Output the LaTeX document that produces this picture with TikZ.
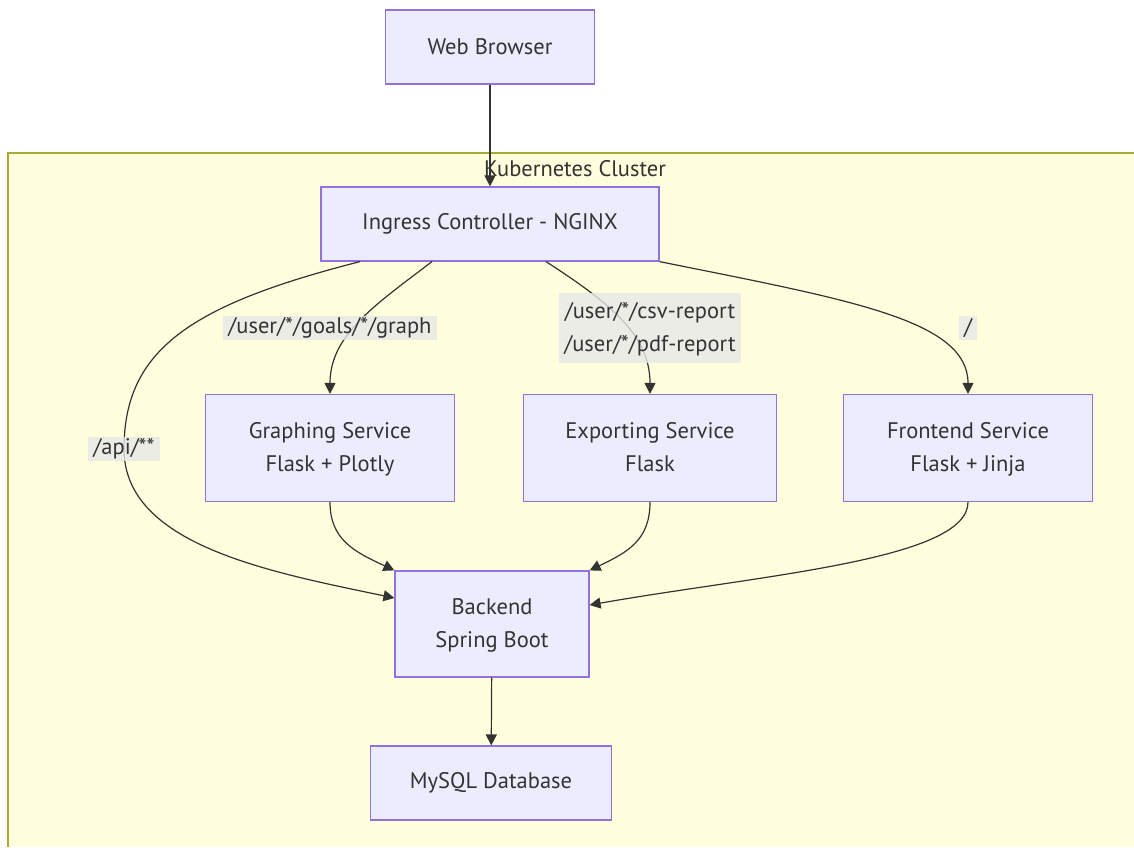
\documentclass[tikz,border=0pt]{standalone}
\usepackage{fontspec}
\setmainfont{PT Sans}
\usepackage{tikz}
\usetikzlibrary{arrows.meta}

\definecolor{boxfill}{HTML}{ECECFF}
\definecolor{boxline}{HTML}{9370DB}
\definecolor{clusterfill}{HTML}{FFFFDE}
\definecolor{clusterline}{HTML}{AAAA33}
\definecolor{ink}{HTML}{333333}
\definecolor{lblfill}{HTML}{E8E8E8}

\begin{document}
\begin{tikzpicture}[x=1pt, y=-1pt,
    box/.style={draw=boxline, fill=boxfill, line width=1.2pt, align=center,
      text=ink, inner sep=0pt, font=\fontsize{22.5}{33}\selectfont},
    flow/.style={draw=ink, line width=1.2pt, -{Triangle[length=11pt,width=11pt]}},
    route/.style={fill=lblfill, fill opacity=0.8, text opacity=1, text=ink,
      align=center, inner xsep=5pt, inner ysep=2pt, font=\fontsize{22.5}{33}\selectfont}]
      \useasboundingbox (0,0) rectangle (1134,847);
      % cluster
      \fill[clusterfill] (8,153) rectangle (1134,847);
      \draw[clusterline, line width=1.2pt] (8,847) -- (8,153) -- (1134,153);
      \node[text=ink, font=\fontsize{22.5}{27}\selectfont] (cluster) at (575,169) {Kubernetes Cluster};

      \node[box, minimum width=209pt, minimum height=74pt] (browser) at (490,47) {Web Browser};
      \node[box, minimum width=338pt, minimum height=74pt] (ingress) at (490,224) {Ingress Controller - NGINX};
      \node[box, minimum width=249pt, minimum height=107pt] (graphing) at (330,448) {\strut Graphing Service\\Flask + Plotly\strut};
      \node[box, minimum width=253pt, minimum height=107pt] (exporting) at (650,448) {\strut Exporting Service\\Flask\strut};
      \node[box, minimum width=249pt, minimum height=107pt] (frontend) at (968,448) {\strut Frontend Service\\Flask + Jinja\strut};
      \node[box, minimum width=194pt, minimum height=106pt] (backend) at (492,624) {\strut Backend\\Spring Boot\strut};
      \node[box, minimum width=241pt, minimum height=74pt] (mysql) at (491,783) {MySQL Database};

      \draw[flow] (browser) -- (ingress);
      \draw[flow] ([xshift=-130pt]ingress.south) .. controls (190,305) and (124,350) .. (124,449)
        .. controls (124,545) and (270,572) .. ([yshift=26pt]backend.west);
      \draw[flow] ([xshift=-58pt]ingress.south) .. controls (375,305) and (330,335) .. (graphing.north);
      \draw[flow] ([xshift=56pt]ingress.south) .. controls (610,303) and (650,335) .. (exporting.north);
      \draw[flow] (ingress.south east) .. controls (850,300) and (968,320) .. (frontend.north);
      \draw[flow] (graphing.south) .. controls (330,540) and (355,552) .. (backend.north west);
      \draw[flow] (exporting.south) .. controls (650,540) and (628,552) .. (backend.north east);
      \draw[flow] (frontend.south) .. controls (968,560) and (760,575) .. ([yshift=19pt]backend.east);
      \draw[flow] (backend) -- (mysql);

      \node[route] (api) at (124,449) {/api/**};
      \node[route] (graphroute) at (330,328) {/user/*/goals/*/graph};
      \node[route] (reportroute) at (650,328) {\strut/user/*/csv-report\\/user/*/pdf-report\strut};
      \node[route] (rootroute) at (968,328) {/};
\end{tikzpicture}
\end{document}
